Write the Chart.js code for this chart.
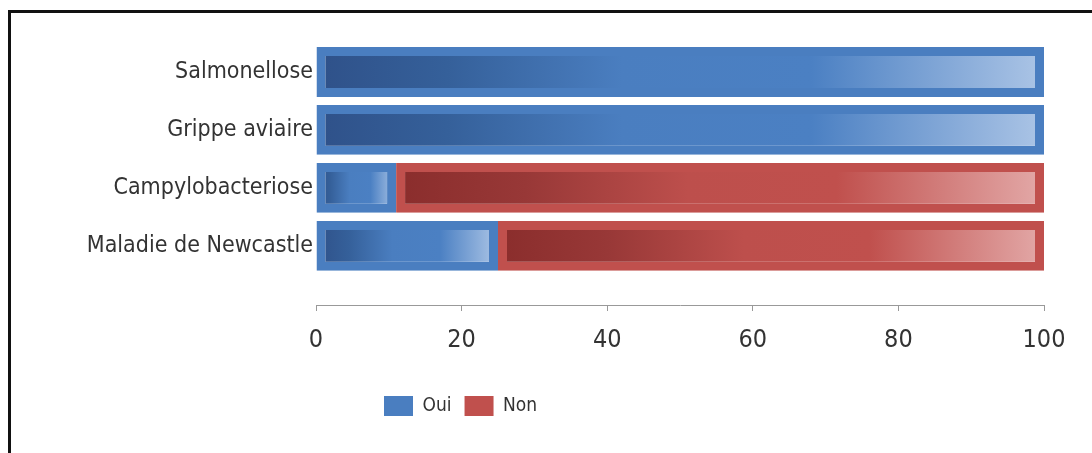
<!DOCTYPE html>
<html>
<head>
<meta charset="utf-8">
<script src="https://cdn.jsdelivr.net/npm/chart.js@4.4.0/dist/chart.umd.min.js"></script>
<style>
    html, body { margin: 0; padding: 0; background: #fff; }
    #wrap { position: relative; width: 1092px; height: 453px; overflow: hidden; }
    #frame { position: absolute; left: 8px; top: 10px; right: -10px; bottom: -10px;
             border-left: 3px solid #111; border-top: 3px solid #111; }
    #myChart { position: absolute; left: 0; top: 0; }
</style>
</head>
<body>
<div id="wrap">
    <div id="frame"></div>
    <canvas id="myChart" width="1092" height="453"></canvas>
</div>
<script>
const categories = ['Salmonellose', 'Grippe aviaire', 'Campylobacteriose', 'Maladie de Newcastle'];
const oui = [100, 100, 11, 25];
const non = [0, 0, 89, 75];
const xTicks = [0, 20, 40, 60, 80, 100];

const fontFamily = "'DejaVu Sans Condensed', 'DejaVu Sans', sans-serif";

// dark -> base -> light, per bar
const palettes = {
    blue: { base: '#4a7ec0', stops: [[0, '#2f5189'], [0.18, '#35609a'], [0.42, '#4a7ec0'], [0.68, '#4b80c3'], [1, '#acc5e6']] },
    red:  { base: '#c0504d', stops: [[0, '#8a2d2c'], [0.2, '#983837'], [0.45, '#bd4f4c'], [0.68, '#c0504d'], [1, '#e3a9a8']] }
};

function barGradient(pal) {
    return (ctx) => {
        const chart = ctx.chart;
        const xs = chart.scales.x;
        if (!xs || ctx.dataIndex === undefined) return pal.base;
        // start of the segment = sum of the datasets stacked before it
        let start = 0;
        for (let d = 0; d < ctx.datasetIndex; d++) {
            start += chart.data.datasets[d].data[ctx.dataIndex].x;
        }
        const end = start + ctx.raw.x;
        const x0 = xs.getPixelForValue(start), x1 = xs.getPixelForValue(end);
        if (!isFinite(x0) || !isFinite(x1) || x1 - x0 < 1) return pal.base;
        const g = chart.ctx.createLinearGradient(x0, 0, x1, 0);
        for (const s of pal.stops) g.addColorStop(s[0], s[1]);
        return g;
    };
}

// put the legend where it sits under the axis, left of centre
const legendShift = {
    id: 'legendShift',
    afterLayout(chart) {
        const lg = chart.legend;
        if (!lg) return;
        const w = lg.right - lg.left;
        lg.left = 371;
        lg.right = 371 + w;
    }
};

const ctx = document.getElementById('myChart').getContext('2d');
const myChart = new Chart(ctx, {
    type: 'bar',
    data: {
        datasets: [{
            label: 'Oui',
            data: oui.map((v, i) => ({ x: v, y: i })),
            backgroundColor: barGradient(palettes.blue),
            borderColor: palettes.blue.base,
            borderWidth: 9,
            borderSkipped: false
        }, {
            label: 'Non',
            data: non.map((v, i) => ({ x: v, y: i })),
            backgroundColor: barGradient(palettes.red),
            borderColor: palettes.red.base,
            borderWidth: 9,
            borderSkipped: false
        }]
    },
    options: {
        indexAxis: 'y',
        responsive: false,
        animation: false,
        barPercentage: 0.86,
        categoryPercentage: 1,
        layout: { padding: { top: 43, right: 48, bottom: 27, left: 0 } },
        scales: {
            x: {
                type: 'linear',
                stacked: true,
                min: 0,
                max: 100,
                afterBuildTicks: (scale) => { scale.ticks = xTicks.map(v => ({ value: v })); },
                afterFit: (scale) => { scale.height = 78; },
                grid: { drawOnChartArea: false, drawTicks: true, tickLength: 6, color: '#999' },
                border: { display: true, color: '#999', width: 1 },
                ticks: { color: '#333', padding: 14, font: { family: fontFamily, size: 25 } }
            },
            y: {
                type: 'linear',
                stacked: true,
                reverse: true,
                offset: false,
                min: -0.5,
                max: 4.02,
                afterBuildTicks: (scale) => { scale.ticks = categories.map((c, i) => ({ value: i })); },
                afterFit: (scale) => { scale.width = 316; },
                grid: { display: false, drawTicks: false, offset: false },
                border: { display: false },
                ticks: {
                    color: '#333',
                    padding: 3,
                    font: { family: fontFamily, size: 23 },
                    callback: (v) => categories[v] ?? ''
                }
            }
        },
        plugins: {
            legend: {
                position: 'bottom',
                align: 'start',
                labels: {
                    boxWidth: 29,
                    boxHeight: 20,
                    padding: 13,
                    color: '#333',
                    font: { family: fontFamily, size: 19 },
                    generateLabels: (chart) => chart.data.datasets.map((ds, i) => ({
                        text: ds.label,
                        fillStyle: ds.borderColor,
                        strokeStyle: ds.borderColor,
                        lineWidth: 0,
                        datasetIndex: i,
                        fontColor: '#333'
                    }))
                }
            },
            tooltip: { enabled: false }
        }
    },
    plugins: [legendShift]
});
</script>
</body>
</html>
